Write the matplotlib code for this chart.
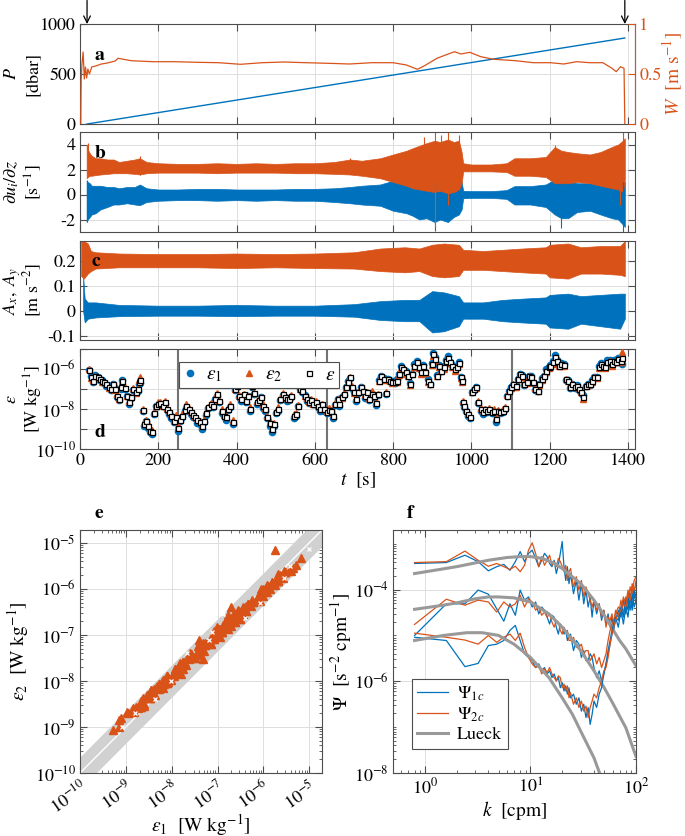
import numpy as np
import matplotlib.pyplot as plt
from matplotlib.ticker import FixedLocator, LogLocator, NullFormatter, FuncFormatter

plt.rcParams['font.family'] = ['STIXGeneral', 'DejaVu Serif']
plt.rcParams['mathtext.fontset'] = 'stix'
plt.rcParams['font.size'] = 12
plt.rcParams['axes.unicode_minus'] = False

blue = '#0072BD'
orange = '#D95319'
edge = '0.3'
gridc = '0.87'

# ---- panel a: pressure and fall speed
t_P = [18, 1392]
P = [0, 860]
t_W = [2, 3, 5, 8, 11, 14, 17, 20, 24, 30, 40, 55, 70, 90, 97, 131, 186, 242, 298, 354,
       410, 466, 521, 577, 633, 689, 745, 800, 834, 862, 879, 912, 934, 957, 973, 996, 1024,
       1057, 1113, 1158, 1202, 1236, 1269, 1303, 1336, 1359, 1370, 1381, 1390, 1392]
W = [0.0, 0.44, 0.60, 0.72, 0.45, 0.57, 0.46, 0.55, 0.50, 0.57, 0.58, 0.60, 0.61, 0.63, 0.657,
     0.633, 0.623, 0.623, 0.617, 0.613, 0.597, 0.613, 0.62, 0.613, 0.607, 0.60, 0.613, 0.613,
     0.59, 0.547, 0.58, 0.657, 0.69, 0.723, 0.70, 0.717, 0.673, 0.647, 0.633, 0.613, 0.613,
     0.60, 0.623, 0.613, 0.613, 0.557, 0.523, 0.573, 0.557, 0.0]

# ---- panel b: shear probes (envelopes)
t_b = [17, 20, 25, 30, 40, 52, 70, 86, 100, 120, 140, 153, 170, 200, 250, 300, 350, 400, 450, 500,
       550, 600, 650, 690, 720, 767, 800, 834, 850, 867, 885, 906, 920, 940, 955, 968, 975, 979,
       1000, 1050, 1090, 1110, 1150, 1190, 1213, 1230, 1247, 1270, 1303, 1330, 1359, 1375, 1387, 1392]
sh2_hi = [4.0, 3.6, 3.3, 3.1, 2.9, 2.9, 2.8, 2.8, 2.6, 2.7, 2.8, 2.9, 2.6, 2.5, 2.45, 2.45, 2.5, 2.45,
          2.5, 2.45, 2.5, 2.5, 2.6, 2.8, 2.7, 2.9, 3.2, 3.5, 3.7, 3.9, 4.1, 4.3, 4.2, 4.4, 4.2, 4.3,
          3.4, 2.5, 2.4, 2.4, 2.5, 2.9, 2.9, 3.0, 3.8, 3.5, 3.4, 3.3, 3.2, 3.4, 3.8, 4.0, 4.3, 4.5]
sh2_lo = [1.3, 1.4, 1.5, 1.5, 1.55, 1.6, 1.65, 1.7, 1.7, 1.7, 1.65, 1.6, 1.7, 1.75, 1.75, 1.75, 1.7,
          1.75, 1.75, 1.75, 1.7, 1.7, 1.65, 1.6, 1.5, 1.3, 1.0, 0.7, 0.5, 0.4, 0.3, 0.2, 0.3, 0.1,
          0.2, 0.4, 0.9, 1.85, 1.85, 1.85, 1.8, 1.5, 1.5, 1.4, 0.9, 0.9, 0.9, 1.0, 0.9, 0.7, 0.5,
          0.4, 0.2, 1.2]
sh1_hi = [1.1, 1.0, 0.9, 0.7, 0.7, 0.7, 0.6, 0.6, 0.5, 0.6, 0.6, 0.8, 0.5, 0.4, 0.4, 0.45, 0.45, 0.4,
          0.4, 0.4, 0.45, 0.45, 0.5, 0.6, 0.7, 0.8, 1.1, 1.3, 1.3, 1.3, 1.3, 1.4, 1.3, 1.4, 1.3, 1.2,
          1.0, 0.3, 0.27, 0.27, 0.35, 0.67, 0.67, 0.8, 1.2, 1.0, 1.1, 0.9, 0.9, 1.0, 1.2, 1.2, 1.2, 1.0]
sh1_lo = [-2.2, -2.0, -1.8, -1.6, -1.5, -1.2, -1.0, -0.8, -0.8, -0.7, -0.8, -0.85, -0.6, -0.5, -0.45,
          -0.45, -0.5, -0.45, -0.5, -0.45, -0.5, -0.5, -0.6, -0.7, -0.8, -0.9, -1.3, -1.5, -1.7, -2.0,
          -1.9, -2.2, -2.0, -2.2, -1.8, -1.6, -1.2, -0.3, -0.27, -0.27, -0.35, -0.8, -0.8, -1.0, -1.6,
          -1.9, -1.9, -1.4, -1.3, -1.6, -1.9, -2.0, -2.4, -2.6]
spk2_t = [20, 153, 690, 880, 906, 922, 940, 968, 1213, 1380, 1387]
spk2_lo = [1.5, 1.6, 1.7, 1.0, -2.6, 0.5, -0.8, 0.5, 1.0, -0.8, 1.0]
spk2_hi = [4.1, 3.1, 2.95, 4.6, 5.0, 4.8, 5.0, 4.8, 4.0, 3.5, 5.0]
spk1_t = [17, 906, 1230, 1387]
spk1_lo = [-2.2, -2.9, -2.7, -3.0]
spk1_hi = [1.2, 1.0, 0.5, 1.2]

# ---- panel c: accelerometers
t_ax = [3, 10, 20, 28, 40, 100, 200, 300, 400, 500, 600, 700, 767, 830, 867, 900, 930, 968, 979,
        1030, 1080, 1130, 1190, 1200, 1247, 1280, 1330, 1380, 1392]
ax_hi = [0.28, 0.28, 0.27, 0.24, 0.235, 0.23, 0.228, 0.228, 0.23, 0.228, 0.23, 0.235, 0.25, 0.255,
         0.25, 0.265, 0.27, 0.265, 0.245, 0.24, 0.245, 0.25, 0.255, 0.265, 0.27, 0.255, 0.26, 0.26, 0.28]
ax_lo = [0.14, 0.13, 0.15, 0.16, 0.17, 0.175, 0.175, 0.175, 0.172, 0.175, 0.172, 0.17, 0.16, 0.155,
         0.16, 0.14, 0.135, 0.14, 0.165, 0.165, 0.16, 0.155, 0.15, 0.135, 0.13, 0.15, 0.15, 0.145, 0.14]
t_ay = [8, 12, 20, 40, 100, 200, 300, 400, 500, 600, 700, 767, 830, 867, 900, 930, 968, 979, 1030,
        1080, 1130, 1190, 1200, 1247, 1280, 1330, 1380, 1392]
ay_hi = [0.14, 0.05, 0.035, 0.035, 0.025, 0.022, 0.022, 0.025, 0.022, 0.022, 0.028, 0.04, 0.045,
         0.045, 0.08, 0.075, 0.06, 0.035, 0.035, 0.045, 0.05, 0.055, 0.065, 0.07, 0.06, 0.065, 0.07, 0.07]
ay_lo = [0.0, -0.045, -0.03, -0.025, -0.02, -0.018, -0.018, -0.02, -0.018, -0.018, -0.022, -0.035,
         -0.04, -0.04, -0.085, -0.08, -0.06, -0.03, -0.03, -0.04, -0.045, -0.05, -0.065, -0.07, -0.05,
         -0.06, -0.07, -0.03]

# ---- panel d: dissipation estimates, log10 of the mean and log10(eps2/eps1)
t_eps = [22, 28, 33, 39, 45, 50, 56, 61, 67, 73, 78, 84, 89, 95, 99, 105, 108, 114, 119, 125,
         131, 136, 142, 147, 151, 154, 160, 164, 169, 173, 179, 183, 189, 194, 200, 205, 211, 217, 222, 228,
         233, 239, 244, 250, 256, 261, 267, 272, 278, 284, 289, 295, 300, 306, 311, 317, 323, 328, 334, 339,
         345, 351, 356, 362, 367, 373, 378, 384, 390, 395, 401, 406, 412, 418, 423, 429, 434, 440, 445, 451,
         457, 462, 468, 473, 479, 485, 490, 496, 501, 507, 512, 518, 524, 529, 535, 540, 546, 552, 557, 563,
         568, 574, 579, 585, 591, 596, 602, 607, 613, 619, 624, 630, 635, 641, 646, 652, 658, 663, 669, 674,
         680, 685, 689, 694, 700, 706, 711, 717, 722, 728, 733, 739, 745, 750, 756, 761, 765, 770, 776, 781,
         787, 793, 798, 804, 809, 815, 821, 826, 832, 837, 843, 848, 854, 860, 865, 871, 876, 882, 888, 893,
         899, 903, 908, 912, 918, 923, 929, 934, 940, 946, 951, 957, 962, 968, 974, 977, 979, 982, 987, 991,
         996, 1001, 1007, 1013, 1018, 1024, 1029, 1035, 1040, 1046, 1052, 1057, 1063, 1068, 1074, 1080, 1085,
         1091, 1096, 1102, 1107, 1113, 1119, 1124, 1130, 1135, 1141, 1146, 1152, 1158, 1163, 1169, 1174, 1180,
         1186, 1191, 1197, 1202, 1208, 1214, 1219, 1225, 1230, 1236, 1241, 1247, 1253, 1258, 1264, 1269, 1275,
         1280, 1286, 1292, 1297, 1303, 1309, 1314, 1320, 1325, 1331, 1336, 1342, 1347, 1353, 1359, 1364, 1370,
         1375, 1381, 1386]
log_eps = [-6.03, -6.42, -6.58, -6.33, -6.38, -6.5, -6.58, -6.67, -6.75, -6.92,
           -7.0, -6.75, -7.0, -7.33, -7.5, -6.92, -6.58, -6.95, -7.33, -7.67,
           -7.42, -7.0, -7.17, -7.0, -6.67, -6.55, -8.05, -8.75, -8.58, -8.83,
           -9.08, -9.17, -8.22, -7.83, -7.75, -7.72, -7.83, -7.67, -8.0, -8.17,
           -8.33, -8.62, -8.42, -8.95, -8.55, -8.33, -8.05, -7.83, -8.0, -8.17,
           -8.28, -8.42, -8.55, -8.67, -8.83, -8.62, -8.22, -7.92, -7.75, -7.83,
           -7.5, -7.25, -7.58, -8.08, -8.33, -8.42, -8.0, -7.83, -8.67, -7.0,
           -6.83, -7.33, -7.5, -7.25, -7.58, -7.33, -8.0, -6.83, -7.22, -7.67,
           -7.55, -7.42, -7.83, -8.0, -8.42, -8.72, -9.0, -8.75, -8.17, -8.0,
           -7.5, -7.25, -7.42, -7.5, -7.5, -7.33, -8.33, -8.25, -7.83, -7.0,
           -7.08, -7.33, -7.5, -7.67, -7.55, -7.75, -7.67, -7.83, -8.0, -7.75,
           -8.0, -8.17, -8.05, -8.08, -8.33, -7.75, -7.5, -7.75, -7.42, -7.25,
           -6.92, -6.67, -6.42, -6.92, -7.17, -7.5, -7.17, -6.92, -7.08, -7.33,
           -7.17, -7.5, -7.25, -7.33, -7.72, -7.25, -6.58, -6.33, -6.5, -7.22,
           -6.5, -6.58, -6.67, -6.67, -6.58, -6.25, -5.92, -6.0, -6.17, -6.33,
           -6.75, -6.25, -5.83, -5.67, -5.92, -6.17, -5.83, -6.17, -6.58, -6.75,
           -5.75, -5.25, -5.5, -6.33, -5.83, -6.08, -5.92, -5.58, -5.45, -5.67,
           -5.83, -6.0, -5.92, -5.72, -6.42, -6.58, -7.67, -7.83, -8.08, -8.25,
           -8.42, -7.17, -7.0, -6.92, -7.67, -8.0, -8.17, -8.0, -8.08, -8.0,
           -8.17, -8.12, -8.5, -8.12, -8.17, -8.08, -7.95, -7.33, -7.08, -6.92,
           -6.75, -6.83, -6.5, -6.25, -6.33, -6.75, -6.67, -6.33, -6.42, -6.67,
           -7.0, -7.08, -6.75, -6.5, -6.33, -6.08, -5.92, -5.83, -5.67, -5.38,
           -5.58, -5.83, -5.75, -5.78, -6.5, -6.58, -6.92, -6.75, -6.92, -6.83,
           -7.0, -7.17, -7.42, -6.83, -6.75, -6.75, -6.58, -6.42, -6.42, -5.92,
           -5.75, -5.83, -5.92, -5.67, -5.58, -5.75, -5.58, -5.67, -5.5, -5.58,
           -5.45]
log_ratio = [0.05, -0.1, 0.1, -0.05, 0.0, 0.1, -0.1, 0.05, 0.15, -0.05,
             0.1, 0.0, -0.1, 0.15, 0.05, 0.2, -0.05, 0.1, 0.0, 0.15,
             0.05, 0.1, -0.05, 0.15, 0.2, 0.3, 0.1, 0.2, 0.05, 0.25,
             0.15, 0.2, 0.1, 0.0, 0.2, 0.1, -0.05, 0.15, 0.1, 0.2,
             0.25, 0.1, 0.2, 0.3, 0.1, 0.15, 0.05, 0.2, 0.1, 0.15,
             0.2, 0.1, 0.25, 0.15, 0.3, 0.1, 0.2, 0.05, 0.15, 0.1,
             0.0, 0.15, 0.1, 0.2, 0.05, 0.25, 0.1, 0.15, 0.2, 0.05,
             -0.05, 0.1, 0.2, 0.05, 0.15, 0.0, 0.2, 0.1, 0.05, 0.15,
             0.1, 0.0, 0.2, 0.15, 0.1, 0.25, 0.3, 0.15, 0.1, 0.2,
             0.05, 0.1, 0.0, 0.15, 0.05, 0.1, 0.2, 0.15, 0.05, 0.0,
             0.1, -0.05, 0.15, 0.05, 0.1, 0.0, 0.15, 0.1, 0.2, 0.05,
             0.15, 0.1, 0.2, 0.05, 0.25, 0.1, 0.0, 0.15, -0.05, 0.1,
             0.0, -0.1, 0.05, 0.1, -0.05, 0.15, 0.05, 0.0, 0.1, 0.2,
             0.05, 0.1, 0.3, 0.15, 0.2, 0.05, -0.05, 0.0, -0.1, 0.1,
             -0.05, 0.0, -0.1, 0.05, -0.15, -0.05, -0.1, 0.0, -0.15, -0.05,
             -0.1, 0.0, -0.15, -0.1, -0.05, -0.2, -0.1, -0.05, -0.15, 0.0,
             -0.1, -0.15, -0.2, -0.05, -0.1, 0.0, -0.15, -0.1, -0.2, -0.05,
             -0.1, -0.15, 0.0, -0.1, -0.05, -0.1, 0.1, 0.15, 0.05, 0.2,
             0.1, 0.0, 0.05, -0.05, 0.1, 0.15, 0.2, 0.05, 0.1, 0.15,
             0.1, 0.2, 0.25, 0.1, 0.05, 0.15, 0.1, 0.05, 0.0, -0.05,
             0.05, -0.1, 0.0, -0.05, -0.1, 0.05, -0.05, 0.0, -0.1, 0.05,
             0.1, 0.0, -0.05, -0.1, 0.0, -0.15, -0.05, -0.1, -0.15, -0.2,
             -0.1, -0.05, -0.15, -0.1, 0.05, -0.05, 0.1, 0.0, 0.05, -0.05,
             0.1, 0.05, -0.2, 0.0, -0.05, 0.05, -0.1, 0.0, -0.05, -0.1,
             -0.15, -0.05, -0.1, -0.2, -0.05, -0.15, -0.1, 0.0, -0.15, -0.1,
             0.6]
t_marks = [251, 632, 1104]

# ---- panel e: highlighted points (log10)
hl_e1 = [-5.0, -5.42, -5.55, -6.08, -6.39, -6.88, -7.13, -7.19, -7.66, -8.02, -8.37, -8.79, -9.08]
hl_e2 = [-5.13, -5.50, -5.77, -6.30, -6.63, -6.55, -6.93, -7.10, -7.39, -8.01, -8.40, -8.70, -9.0]
band_dec = 0.35

# ---- panel f: spectra (log10 Psi)
k_spec = [0.8, 1.6, 2.4, 3.2, 4.0, 4.8, 5.6, 6.4, 7.2, 8.0, 8.8, 9.6, 10.4, 11.2, 12.0, 12.8, 13.6,
          14.4, 15.2, 16.0, 16.8, 17.6, 18.4, 19.2, 20.0, 20.8, 21.6, 22.4, 23.2, 24.0, 25.6, 27.2,
          28.8, 30.4, 32.0, 33.6, 35.2, 36.8, 38.4, 40.0, 42.4, 44.8, 47.2, 49.6, 52.0, 54.4, 56.8,
          59.2, 61.6, 64.0, 68.0, 72.0, 76.0, 80.0, 84.0, 88.0, 92.0, 96.0, 100.0]
psi1_top = [-3.43, -3.41, -3.25, -3.39, -3.59, -3.50, -3.45, -3.58, -3.39, -3.17, -3.39, -3.21, -3.14,
            -3.32, -3.50, -3.36, -3.21, -3.28, -3.43, -3.50, -3.36, -3.65, -3.47, -3.21, -2.95, -3.50,
            -3.80, -3.50, -3.87, -3.65, -4.09, -3.80, -4.23, -3.87, -4.31, -4.01, -4.38, -4.16, -4.60,
            -4.23, -4.53, -4.31, -4.67, -4.45, -4.75, -4.53, -4.82, -4.60, -4.89, -4.60, -4.82, -4.45,
            -4.75, -4.38, -4.60, -4.16, -4.45, -4.09, -4.31]
psi2_top = [-3.41, -3.39, -3.16, -3.36, -3.49, -3.43, -3.50, -3.56, -3.49, -3.61, -3.47, -3.14, -2.98,
            -3.21, -3.50, -3.28, -3.47, -3.36, -3.25, -3.47, -3.39, -3.50, -3.32, -3.39, -3.50, -3.61,
            -3.47, -3.80, -3.61, -3.54, -3.94, -3.72, -4.01, -3.80, -4.16, -3.94, -4.09, -4.23, -4.38,
            -4.23, -4.45, -4.31, -4.60, -4.45, -4.82, -4.60, -4.67, -4.53, -4.75, -4.45, -4.60, -4.23,
            -4.53, -4.16, -4.31, -3.94, -4.09, -3.80, -3.72]
psi1_mid = [-5.00, -4.31, -4.31, -4.01, -4.10, -4.42, -4.69, -4.31, -4.56, -4.01, -4.23, -4.16, -4.38,
            -4.27, -4.53, -4.38, -4.45, -4.60, -4.75, -4.56, -4.60, -4.82, -4.97, -4.75, -4.82, -4.97,
            -4.89, -5.11, -5.00, -4.97, -5.33, -5.11, -5.19, -5.48, -5.33, -5.55, -5.55, -5.40, -5.48,
            -5.70, -5.92, -5.77, -5.99, -5.84, -5.62, -5.40, -5.19, -4.97, -4.82, -4.67, -4.45, -4.60,
            -4.23, -4.53, -4.16, -4.45, -4.09, -4.38, -4.23]
psi2_mid = [-4.76, -4.21, -4.34, -4.23, -4.27, -4.49, -4.27, -4.38, -4.31, -4.12, -4.38, -4.20, -4.27,
            -4.45, -4.38, -4.56, -4.49, -4.60, -4.53, -4.71, -4.82, -4.67, -4.71, -4.89, -4.97, -4.82,
            -4.93, -4.89, -5.11, -5.11, -5.04, -5.26, -5.26, -5.19, -5.40, -5.33, -5.33, -5.55, -5.48,
            -5.40, -5.62, -5.48, -5.70, -5.55, -5.40, -5.11, -4.89, -4.75, -4.67, -4.53, -4.38, -4.45,
            -4.16, -4.31, -4.01, -4.23, -3.87, -4.09, -3.80]
psi1_low = [-5.04, -5.11, -5.68, -5.61, -5.22, -5.19, -5.11, -4.89, -4.78, -5.11, -5.40, -5.48, -5.55,
            -5.70, -5.62, -5.77, -5.70, -5.84, -5.77, -5.92, -5.84, -5.99, -5.92, -6.14, -6.03, -6.21,
            -6.10, -6.28, -6.14, -6.36, -6.28, -6.50, -6.36, -6.65, -6.50, -6.79, -6.57, -6.94, -6.72,
            -6.43, -6.57, -6.28, -6.14, -5.84, -5.62, -5.33, -5.11, -4.89, -4.75, -4.60, -4.67, -4.38,
            -4.60, -4.23, -4.45, -4.09, -4.38, -4.01, -4.16]
psi2_low = [-4.95, -5.04, -5.10, -5.19, -5.00, -5.15, -5.04, -4.97, -5.11, -4.95, -5.26, -5.48, -5.62,
            -5.70, -5.66, -5.84, -5.73, -5.81, -5.70, -5.84, -5.92, -5.99, -5.88, -5.92, -6.14, -6.06,
            -6.21, -6.10, -6.36, -6.25, -6.50, -6.36, -6.57, -6.43, -6.65, -6.54, -6.79, -6.57, -6.43,
            -6.28, -6.36, -6.14, -5.99, -5.77, -5.70, -5.48, -5.19, -4.97, -4.82, -4.67, -4.53, -4.45,
            -4.31, -4.38, -4.09, -4.23, -3.94, -4.01, -3.87]
k_lk1 = [0.8, 2, 4, 6, 8, 10, 13, 17, 20, 30, 40, 50, 60, 70, 80, 100]
lk1 = [-3.65, -3.50, -3.36, -3.30, -3.28, -3.28, -3.32, -3.43, -3.54, -3.87, -4.23, -4.56, -4.86,
       -5.11, -5.29, -5.66]
k_lk2 = [0.8, 1.5, 2, 3, 4, 5, 7, 10, 15, 20, 30, 40, 50, 60, 70, 80, 100]
lk2 = [-4.43, -4.34, -4.29, -4.20, -4.16, -4.16, -4.18, -4.27, -4.53, -4.82, -5.33, -5.77, -6.14,
       -6.47, -6.76, -7.01, -7.64]
k_lk3 = [0.8, 1.5, 2.5, 3.5, 5, 7, 10, 15, 20, 25, 30, 40, 46]
lk3 = [-5.11, -5.0, -4.94, -4.94, -5.0, -5.19, -5.48, -5.92, -6.36, -6.72, -7.09, -7.67, -8.05]


def box(l, t, r, b):
    return [l / 685, 1 - b / 836, (r - l) / 685, (b - t) / 836]


def style(ax):
    for s in ax.spines.values():
        s.set_color(edge)
        s.set_linewidth(0.8)
    ax.tick_params(which='both', direction='in', top=True, right=True, color=edge,
                   labelsize=13, pad=3)
    ax.tick_params(which='major', length=5)
    ax.tick_params(which='minor', length=2.5)
    ax.grid(True, color=gridc, linewidth=0.7)
    ax.set_axisbelow(True)


def two_line_label(ax, top, bottom):
    # left labels written as two rotated lines, like the reference
    ax.text(-0.1225, 0.5, top, transform=ax.transAxes, rotation=90, ha='center', va='center',
            fontsize=13)
    ax.text(-0.0847, 0.5, bottom, transform=ax.transAxes, rotation=90, ha='center', va='center',
            fontsize=13)


fig = plt.figure(figsize=(6.85, 8.36), dpi=100)
xlim_t = (0, 1418)
t_ticks = [0, 200, 400, 600, 800, 1000, 1200, 1400]

# a
ax_a = fig.add_axes(box(80, 24, 635, 124))
style(ax_a)
ax_a.plot(t_P, P, color=blue, lw=1)
ax_a.set_xlim(xlim_t)
ax_a.set_ylim(0, 1000)
ax_a.set_yticks([0, 500, 1000])
ax_a.set_xticks(t_ticks)
ax_a.set_xticklabels([])
ax_a.tick_params(right=False)
two_line_label(ax_a, '$P$', '[dbar]')
ax_w = ax_a.twinx()
ax_w.plot(t_W, W, color=orange, lw=0.9)
ax_w.set_ylim(0, 1)
ax_w.set_yticks([0, 0.5, 1])
ax_w.set_yticklabels(['0', '0.5', '1'])
ax_w.tick_params(direction='in', length=5, colors=orange, labelsize=13, pad=3)
for s in ['left', 'top', 'bottom']:
    ax_w.spines[s].set_visible(False)
ax_w.spines['right'].set_color(orange)
ax_w.text(1.068, 0.5, '$W$  [m s$^{-1}$]', transform=ax_w.transAxes, rotation=90,
          ha='center', va='center', color=orange, fontsize=14)
for tt in [18, 1392]:
    ax_a.annotate('', xy=(tt, 1000), xytext=(0, 17), textcoords='offset points',
                  arrowprops=dict(arrowstyle='->', color='k', lw=0.9, shrinkA=0, shrinkB=0),
                  annotation_clip=False)

# b
ax_b = fig.add_axes(box(80, 132, 635, 232))
style(ax_b)
ax_b.fill_between(t_b, sh1_lo, sh1_hi, color=blue, lw=0.5)
ax_b.vlines(spk1_t, spk1_lo, spk1_hi, color=blue, lw=0.8)
ax_b.fill_between(t_b, sh2_lo, sh2_hi, color=orange, lw=0.5)
ax_b.vlines(spk2_t, spk2_lo, spk2_hi, color=orange, lw=0.8)
ax_b.set_xlim(xlim_t)
ax_b.set_ylim(-3, 5)
ax_b.set_yticks([-2, 0, 2, 4])
ax_b.set_xticks(t_ticks)
ax_b.set_xticklabels([])
two_line_label(ax_b, r'$\partial u_i/\partial z$', '[s$^{-1}$]')

# c
ax_c = fig.add_axes(box(80, 241, 635, 340))
style(ax_c)
ax_c.fill_between(t_ay, ay_lo, ay_hi, color=blue, lw=0.5)
ax_c.fill_between(t_ax, ax_lo, ax_hi, color=orange, lw=0.5)
ax_c.set_xlim(xlim_t)
ax_c.set_ylim(-0.115, 0.28)
ax_c.set_yticks([-0.1, 0, 0.1, 0.2])
ax_c.set_yticklabels(['-0.1', '0', '0.1', '0.2'])
ax_c.set_xticks(t_ticks)
ax_c.set_xticklabels([])
two_line_label(ax_c, '$A_x,\\ A_y$', '[m s$^{-2}$]')

# d
ax_d = fig.add_axes(box(80, 349, 635, 449))
style(ax_d)
le = np.array(log_eps)
lr = np.array(log_ratio)
e1 = 10 ** (le - lr / 2)
e2 = 10 ** (le + lr / 2)
for tm in t_marks:
    ax_d.axvline(tm, color='0.45', lw=1.5, zorder=1)
ax_d.semilogy(t_eps, e1, 'o', color=blue, ms=4.5, mec=blue, label=r'$\varepsilon_1$', zorder=3)
ax_d.semilogy(t_eps, e2, '^', color=orange, ms=5, mec=orange, label=r'$\varepsilon_2$', zorder=3)
ax_d.semilogy(t_eps, 10 ** le, 's', mfc='white', mec='k', ms=3.6, mew=0.9, label=r'$\varepsilon$', zorder=4)
ax_d.set_xlim(xlim_t)
ax_d.set_ylim(1e-10, 1e-5)
ax_d.yaxis.set_major_locator(FixedLocator([1e-10, 1e-9, 1e-8, 1e-7, 1e-6, 1e-5]))
ax_d.yaxis.set_major_formatter(FuncFormatter(
    lambda v, p: r'$10^{%d}$' % round(np.log10(v)) if round(np.log10(v)) in (-10, -8, -6) else ''))
ax_d.yaxis.set_minor_locator(FixedLocator([]))
ax_d.set_xticks(t_ticks)
ax_d.set_xlabel('$t$  [s]', fontsize=14, labelpad=1)
two_line_label(ax_d, '$\\varepsilon$', '[W kg$^{-1}$]')
leg = ax_d.legend(loc='upper left', bbox_to_anchor=(0.16, 0.965), ncol=3, fontsize=14,
                  frameon=True, fancybox=False, edgecolor=edge, framealpha=1,
                  handletextpad=0.4, columnspacing=1.0, borderpad=0.2, handlelength=0.8)
leg.get_frame().set_linewidth(0.8)

# e
ax_e = fig.add_axes(box(80, 530, 322, 773))
style(ax_e)
lo_e, hi_e = 1e-10, 10 ** -4.72
xl = np.array([1e-11, 1e-4])
ax_e.fill_between(xl, xl / 10 ** band_dec, xl * 10 ** band_dec, color='0.82', lw=0, zorder=1)
ax_e.plot(xl, xl, color='white', lw=1, zorder=2)
ax_e.loglog(e1, e2, '^', color=orange, mec=orange, ms=5.5, zorder=3)
ax_e.plot(10 ** np.array(hl_e1), 10 ** np.array(hl_e2), 'x', color='white', ms=3, mew=0.9, zorder=4)
ax_e.set_xlim(lo_e, hi_e)
ax_e.set_ylim(lo_e, hi_e)
dec = [10.0 ** p for p in range(-10, -4)]
fmt = FuncFormatter(lambda v, p: r'$10^{%d}$' % round(np.log10(v)))
for axis in (ax_e.xaxis, ax_e.yaxis):
    axis.set_major_locator(FixedLocator(dec))
    axis.set_major_formatter(fmt)
    axis.set_minor_locator(LogLocator(base=10, subs=np.arange(2, 10), numticks=20))
    axis.set_minor_formatter(NullFormatter())
plt.setp(ax_e.get_xticklabels(), rotation=35, ha='right', va='top', rotation_mode='anchor')
ax_e.set_xlabel(r'$\varepsilon_1$  [W kg$^{-1}$]', fontsize=14, labelpad=-4)
ax_e.set_ylabel(r'$\varepsilon_2$  [W kg$^{-1}$]', fontsize=14, labelpad=3)

# f
ax_f = fig.add_axes(box(393, 530, 636, 773))
style(ax_f)
ks = np.array(k_spec)
for p1, p2, kl, lk in [(psi1_top, psi2_top, k_lk1, lk1), (psi1_mid, psi2_mid, k_lk2, lk2),
                       (psi1_low, psi2_low, k_lk3, lk3)]:
    ax_f.loglog(ks, 10 ** np.array(p1), color=blue, lw=0.9)
    ax_f.loglog(ks, 10 ** np.array(p2), color=orange, lw=0.9)
    ax_f.loglog(kl, 10 ** np.array(lk), color='0.6', lw=2.2)
ax_f.plot([], [], color=blue, lw=0.9, label=r'$\Psi_{1c}$')
ax_f.plot([], [], color=orange, lw=0.9, label=r'$\Psi_{2c}$')
ax_f.plot([], [], color='0.6', lw=2.2, label='Lueck')
ax_f.set_xlim(0.5, 100)
ax_f.set_ylim(1e-8, 10 ** -2.7)
ax_f.xaxis.set_major_locator(FixedLocator([1, 10, 100]))
ax_f.xaxis.set_major_formatter(FuncFormatter(lambda v, p: r'$10^{%d}$' % round(np.log10(v))))
ax_f.xaxis.set_minor_locator(LogLocator(base=10, subs=np.arange(2, 10), numticks=20))
ax_f.xaxis.set_minor_formatter(NullFormatter())
ax_f.yaxis.set_major_locator(FixedLocator([1e-8, 1e-6, 1e-4]))
ax_f.yaxis.set_major_formatter(FuncFormatter(lambda v, p: r'$10^{%d}$' % round(np.log10(v))))
ax_f.yaxis.set_minor_locator(LogLocator(base=10, subs=np.arange(1, 10), numticks=20))
ax_f.yaxis.set_minor_formatter(NullFormatter())
ax_f.set_xlabel('$k$  [cpm]', fontsize=14, labelpad=1)
ax_f.set_ylabel(r'$\Psi$  [s$^{-2}$ cpm$^{-1}$]', fontsize=14, labelpad=0)
lf = ax_f.legend(loc='lower left', bbox_to_anchor=(0.041, 0.062), fontsize=13, frameon=True,
                 fancybox=False, edgecolor=edge, framealpha=1, handlelength=1.7,
                 borderpad=0.3, labelspacing=0.15, handletextpad=0.5)
lf.get_frame().set_linewidth(0.8)

# panel letters
for lab, x, y in [('a', 99, 55), ('b', 100, 153), ('c', 96, 261), ('d', 100, 433),
                  ('e', 99, 513), ('f', 410, 513)]:
    fig.text(x / 685, 1 - y / 836, lab, fontweight='bold', fontsize=14, ha='center', va='center')

fig.savefig('out.png', dpi=100)
